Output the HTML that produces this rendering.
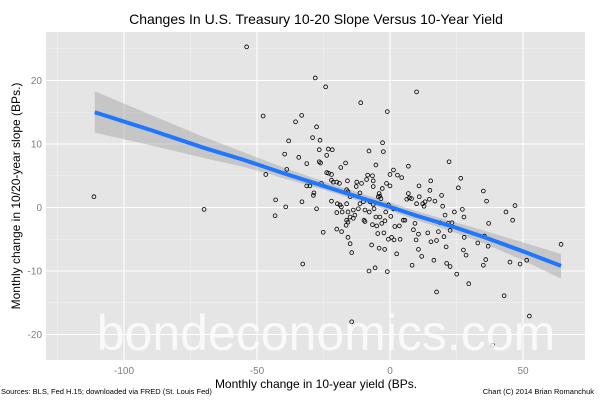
<!DOCTYPE html>
<html><head><meta charset="utf-8"><style>
body{margin:0;background:#fff;width:600px;height:400px;overflow:hidden;font-family:"Liberation Sans",sans-serif}
</style></head><body>
<svg id="chart" width="600" height="400" xmlns="http://www.w3.org/2000/svg" font-family="Liberation Sans, sans-serif"></svg>
<script>
const xs=[-111.3,-69.9,-53.9,-47.7,-46.7,-43,-43.2,-39.6,-38.8,-39.2,-38.1,-35.5,-34.3,-33.2,-33.1,-32.8,-31.3,-31.3,-30.1,-28.8,-28.6,-27.6,-28.1,-27.6,-29.1,-26.3,-26.6,-26.6,-26.1,-25.8,-25.1,-24.2,-23.8,-23.2,-21.7,-23.8,-23.1,-22,-22,-21.3,-22,-20,-19,-18.5,-16.7,-18.8,-19.8,-20,-18,-18.3,-20,-18.2,-16.3,-16.3,-16,-15.8,-15,-15.8,-15,-15.8,-16.3,-16.5,-15.8,-15,-14.4,-14.4,-13.8,-13.2,-13.8,-12.7,-12.5,-11.9,-11.3,-11.3,-11,-10.7,-10,-9.8,-9.4,-9.4,-8.8,-8.4,-7.9,-7.9,-7.8,-7.5,-6.9,-6.6,-6.6,-6.3,-6.3,-6.3,-6,-5.6,-5.3,-5.3,-5,-4.6,-4.4,-4.1,-4.1,-3.8,-3.8,-3.4,-3.1,-2.9,-2.8,-2.5,-2.3,-2,-1.9,-1.6,-1.3,-1,-1,-0.6,-0.6,0,0,0.3,0.6,1.3,1.3,1.8,1.5,2.5,2.8,3.5,3.8,4.4,5,5.6,6.3,6.9,6.9,7.3,8.1,8.3,8.8,9.4,9.8,10,10,10.7,10.9,10.7,11,11.9,12.3,12.8,13.2,14.2,14.8,15,15.3,15.4,16.5,16.9,17.5,17.5,18.2,18.8,19.4,19.8,20.3,20.7,21.1,21.3,21.9,22.2,22.6,22.6,23.3,24.2,25.1,25.7,26.6,27.2,27.8,27.9,27.6,28.6,29.6,33,35.1,35.5,35.1,36,36.3,36.9,37.1,38.6,42.9,43.6,45.1,46.1,47,48.9,51.4,52.4,64.3];
const ys=[1.7,-0.3,25.3,14.4,5.2,1.2,-1.3,8.4,6.0,0.1,10.5,13.5,7.9,14.5,0.9,-8.9,6.9,3.4,3.4,1.9,2.3,-0.2,20.4,12.7,11,10.6,9.1,7.2,7,3.8,-3.9,19,8.2,9.2,9.1,5.5,5.4,5.2,4.3,4,1.0,4,3.8,6.3,7,0.4,0.6,-0.8,-0.7,0.1,-3.4,-3.8,0.6,2.8,4.2,2.5,1.7,-0.7,-1.5,-2.3,-2,-2.8,-4.7,-5.7,-7.1,-18,-0.4,-1.2,-1.7,3.3,4,-0.2,0.6,2.3,16.5,3.8,0.9,-2,-2.2,-0.4,4.4,5.1,8.9,-10,-0.7,0.9,-5.9,-2.7,5,4.2,3.3,0.5,-0.2,-9.5,6.7,-1.5,-2.9,-4.1,1.7,2.2,-6.4,-1.5,1.8,1.4,-2.5,3,10.2,8.8,-4,-6.6,-2.1,-0.7,3.8,15.1,-10.1,-5,0.4,5.2,3.4,-1.4,-4.7,5.9,-0.2,-3,-5.1,-7.3,5.1,-2.9,-5,4.7,-2,-2,1.3,6.5,2.2,1.5,1.4,-9.1,-3.5,-2.5,-5.1,18.2,0.6,-4.2,3.4,-6.6,1.7,-7.7,0.6,0.2,0.9,-4,1.3,2.7,4.2,-5.4,-8.3,1,-13.3,-5.2,-3.8,-2.4,1.9,0.2,-4.6,-1.2,-6.2,-8.8,-2.5,7.2,-9.3,-3.6,-2.4,-0.7,-10.5,3.1,4.6,-0.3,-1.5,-4.7,-6.7,-7.5,-12,-5.6,2.6,-4.5,-9.1,-8.2,1,-6.1,-2.5,-21.7,-13.9,-0.7,-8.6,-2,0.3,-8.9,-8.3,-17.1,-5.8];
const fitX=[-111,-90,-70,-55,-40,-25,-10,0,10,22,35,50,64.3];
const fitY=[15,12.2,9.4,7.5,5.4,3.4,1.4,0.1,-1.3,-2.8,-4.6,-6.9,-9.2];
const bandLo=[11.8,9.8,7.8,6.4,4.6,2.8,0.8,-0.5,-2,-3.6,-5.6,-8.3,-11.2];
const bandHi=[18.3,14.6,11.1,8.7,6.3,4.1,2.1,0.8,-0.6,-2,-3.6,-5.5,-7.3];
const xTicks=[-100,-50,0,50];
const yTicks=[-20,-10,0,10,20];

const svg=document.getElementById('chart');
const NS='http://www.w3.org/2000/svg';
const L=46,R=585,T=32,B=360;
const sx=v=>390+v*2.66;
const sy=v=>207.5-v*6.35;
function mk(tag,attrs,parent){const e=document.createElementNS(NS,tag);for(const k in attrs)e.setAttribute(k,attrs[k]);(parent||svg).appendChild(e);return e;}
const panel=mk('rect',{x:L,y:T,width:R-L,height:B-T,fill:'#e5e5e5'});


[-125,-75,-25,25].forEach(v=>{const g=mk('line',{x1:sx(v),x2:sx(v),y1:T,y2:B,stroke:'#f2f2f2','stroke-width':0.6});});
[-15,-5,5,15,25].forEach(v=>{const g=mk('line',{x1:L,x2:R,y1:sy(v),y2:sy(v),stroke:'#f2f2f2','stroke-width':0.6});});
xTicks.forEach(v=>{const g=mk('line',{x1:sx(v),x2:sx(v),y1:T,y2:B,stroke:'#fff','stroke-width':1.1});
 const t=mk('text',{x:sx(v),y:374,'text-anchor':'middle','font-size':10,fill:'#7f7f7f'});t.textContent=v;});
yTicks.forEach(v=>{const g=mk('line',{x1:L,x2:R,y1:sy(v),y2:sy(v),stroke:'#fff','stroke-width':1.1});
 const t=mk('text',{x:42,y:sy(v)+3.5,'text-anchor':'end','font-size':10,fill:'#7f7f7f'});t.textContent=v;});
let d='M'+fitX.map((x,i)=>sx(x)+','+sy(bandHi[i])).join('L')+'L'+fitX.map((x,i)=>sx(x)+','+sy(bandLo[i])).reverse().join('L')+'Z';
const band=mk('path',{d:d,fill:'#999',opacity:0.4});


xs.forEach((x,i)=>{const c=mk('circle',{cx:sx(x),cy:sy(ys[i]),r:1.9,fill:'none',stroke:'#000','stroke-width':0.8});});
const fit=mk('polyline',{points:fitX.map((x,i)=>sx(x)+','+sy(fitY[i])).join(' '),fill:'none',stroke:'#1f77ff','stroke-width':4});


const wm=mk('text',{x:326,y:350,'text-anchor':'middle','font-size':50,fill:'#fff','fill-opacity':0.75});
wm.textContent='bondeconomics.com';


const ti=mk('text',{x:316,y:24,'text-anchor':'middle','font-size':14,fill:'#000'});
ti.textContent='Changes In U.S. Treasury 10-20 Slope Versus 10-Year Yield';


const yt=mk('text',{x:0,y:0,'text-anchor':'middle','font-size':12,fill:'#000',transform:'translate(20,196) rotate(-90)'});
yt.textContent='Monthly change in 10/20-year slope (BPs.)';


const xt=mk('text',{x:316,y:388,'text-anchor':'middle','font-size':12,fill:'#000'});
xt.textContent='Monthly change in 10-year yield (BPs.';


const src=mk('text',{x:1,y:394,'font-size':7.5,fill:'#000'});
src.textContent='Sources: BLS, Fed H.15; downloaded via FRED (St. Louis Fed)';


const cp=mk('text',{x:594,y:394,'text-anchor':'end','font-size':7.5,fill:'#000'});
cp.textContent='Chart (C) 2014 Brian Romanchuk';


</script>
</body></html>
